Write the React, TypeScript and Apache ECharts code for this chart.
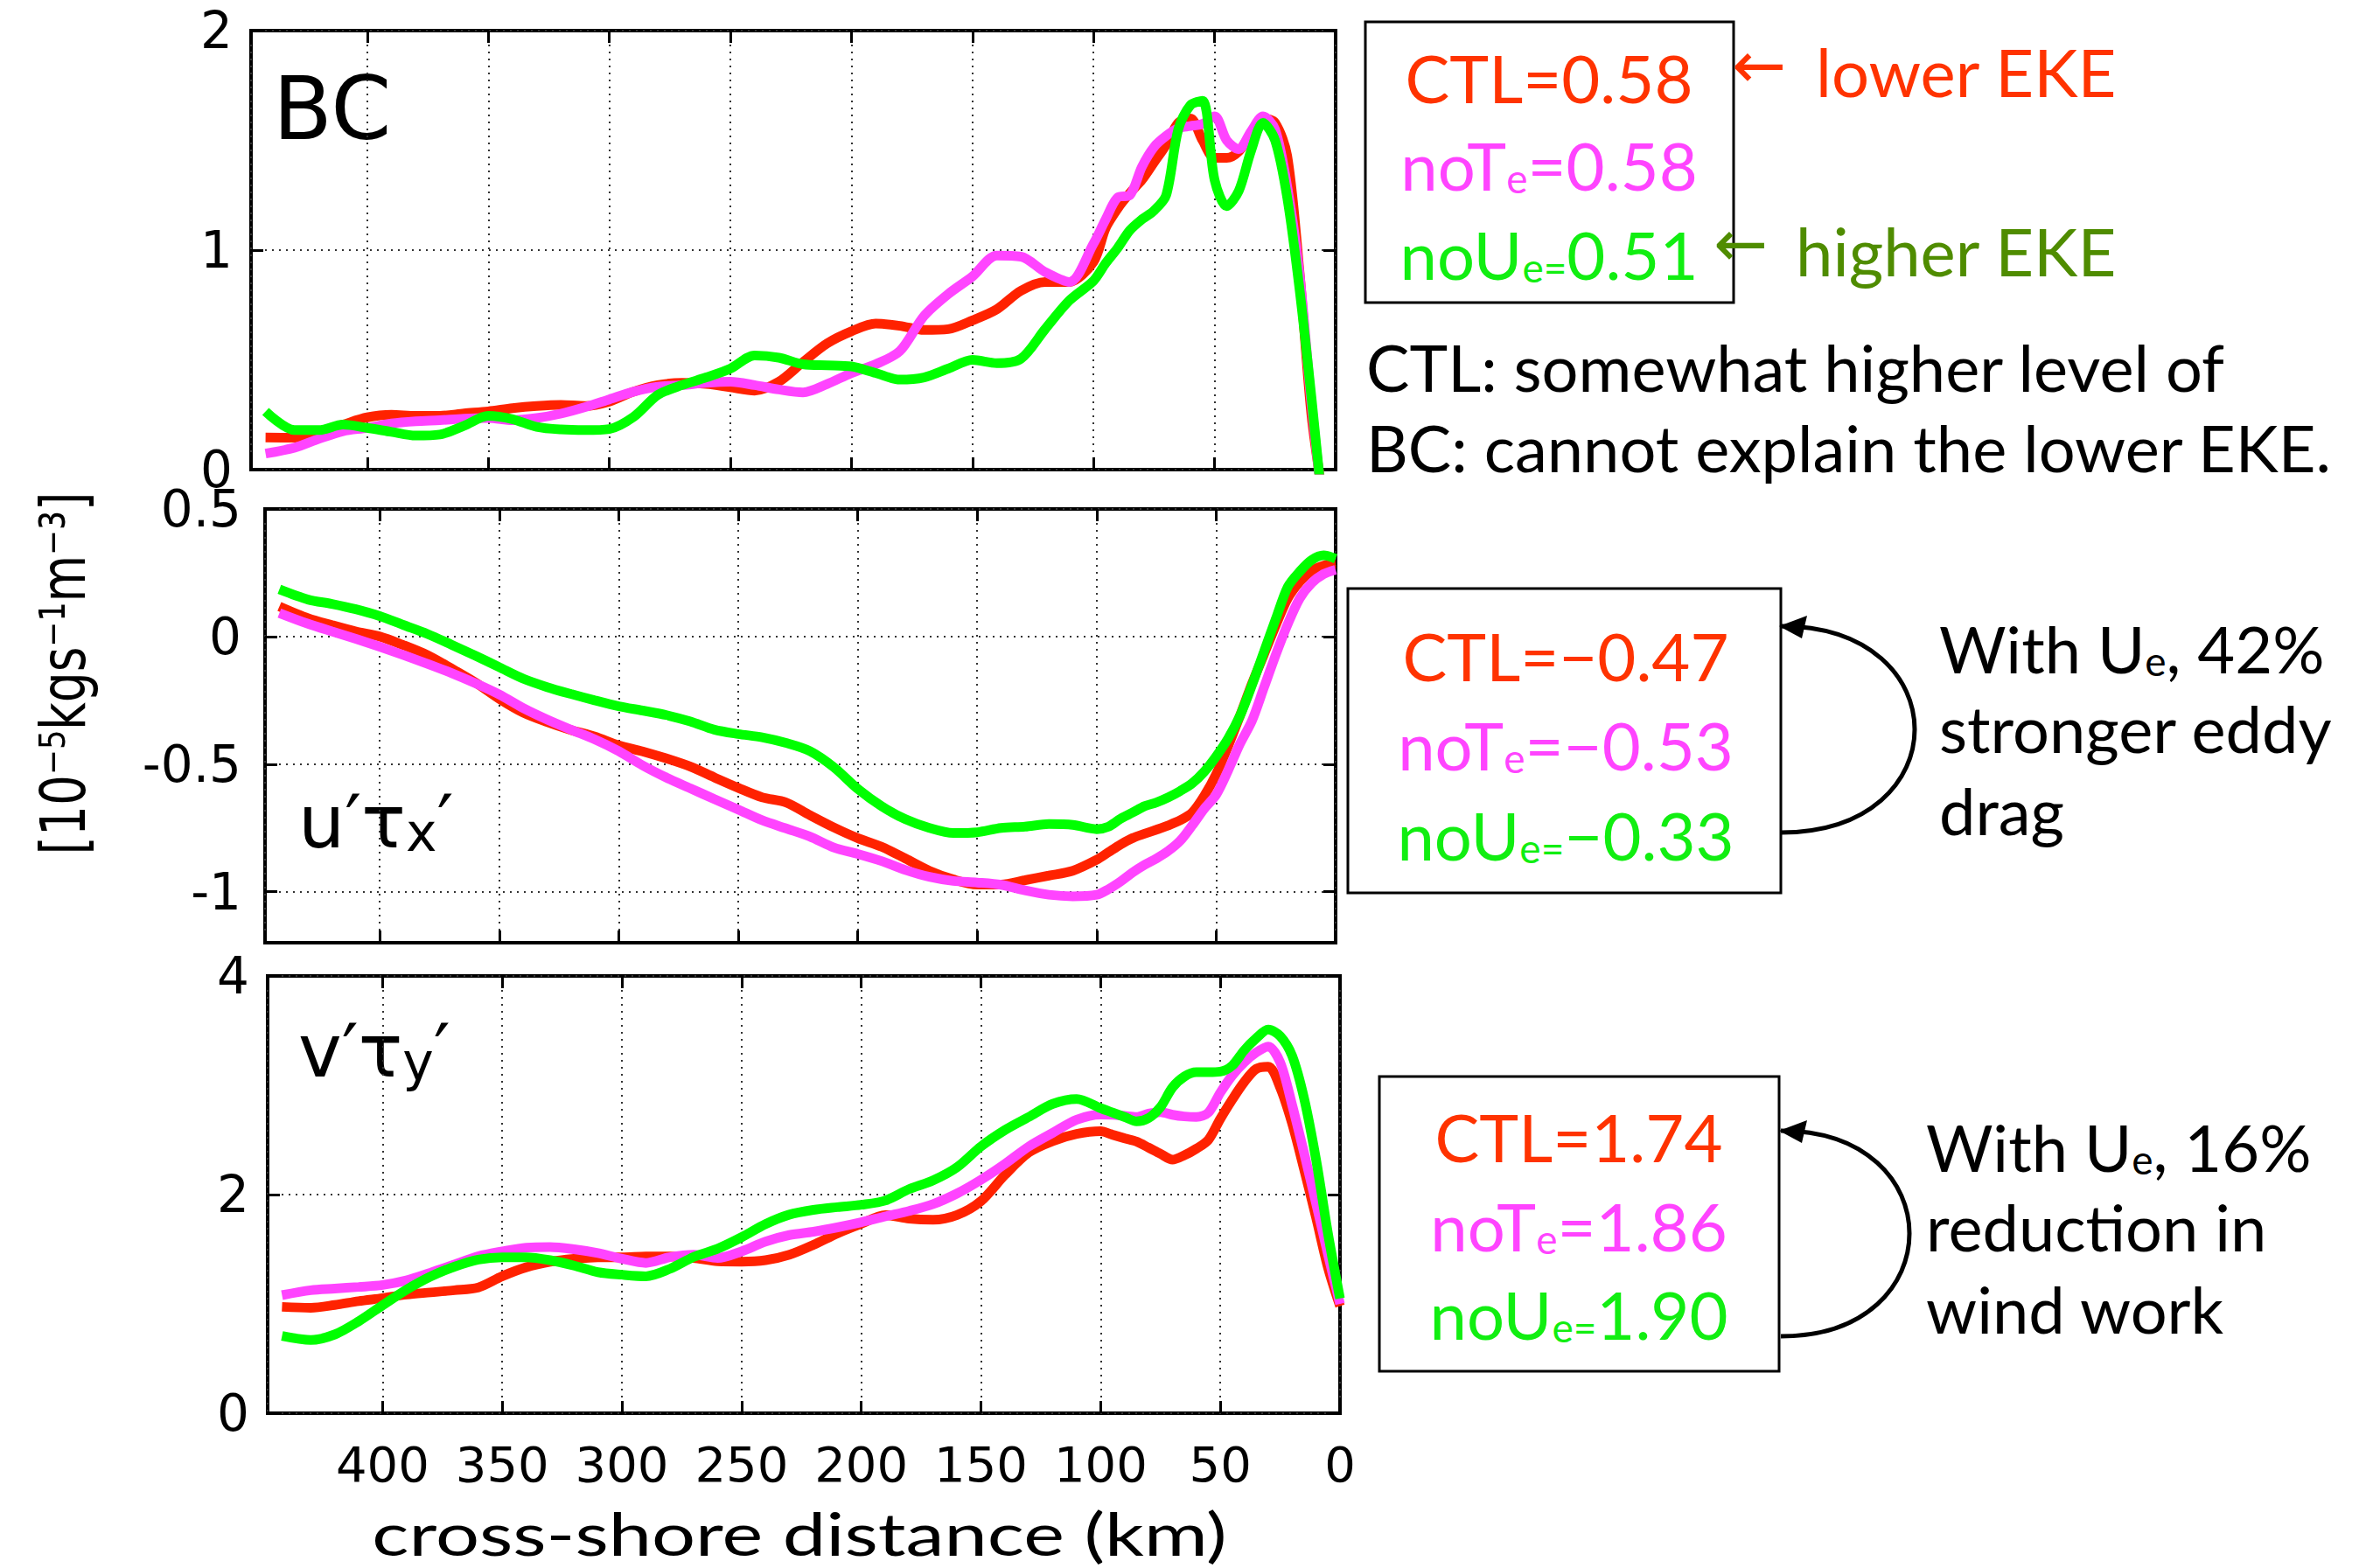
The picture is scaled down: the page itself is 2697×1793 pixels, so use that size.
import React, { useEffect, useRef } from 'react';
import * as echarts from 'echarts';

// cross-shore distance (km) sample positions shared by every curve
const KM = [442, 430, 420, 410, 400, 390, 380, 370, 360, 350, 340, 330, 320, 310, 300, 290, 280, 270, 260, 250, 240, 230, 220, 210, 200, 190, 180, 170, 160, 150, 140, 130, 120, 110, 100, 95, 90, 85, 80, 75, 70, 65, 60, 55, 50, 45, 40, 35, 30, 25, 20, 15, 10, 5, 0];

// Panel 1: BC
const BC_CTL = [0.146, 0.145, 0.17, 0.205, 0.238, 0.25, 0.245, 0.245, 0.256, 0.265, 0.28, 0.29, 0.295, 0.29, 0.31, 0.355, 0.385, 0.395, 0.39, 0.375, 0.36, 0.40, 0.49, 0.575, 0.63, 0.665, 0.655, 0.636, 0.64, 0.68, 0.73, 0.815, 0.855, 0.855, 0.947, 1.10, 1.19, 1.26, 1.32, 1.40, 1.48, 1.58, 1.60, 1.50, 1.42, 1.42, 1.45, 1.53, 1.60, 1.58, 1.43, 0.91, 0.25, -0.15, -0.55];
const BC_NOTE = [0.073, 0.10, 0.14, 0.175, 0.19, 0.21, 0.22, 0.225, 0.232, 0.235, 0.225, 0.235, 0.255, 0.285, 0.32, 0.355, 0.378, 0.385, 0.395, 0.40, 0.385, 0.365, 0.352, 0.39, 0.44, 0.48, 0.54, 0.70, 0.80, 0.88, 0.975, 0.97, 0.90, 0.855, 1.03, 1.14, 1.24, 1.25, 1.38, 1.47, 1.52, 1.555, 1.565, 1.575, 1.61, 1.50, 1.46, 1.54, 1.61, 1.55, 1.29, 0.90, 0.30, -0.2, -0.7];
const BC_NOUE = [0.265, 0.18, 0.18, 0.205, 0.19, 0.172, 0.155, 0.16, 0.20, 0.245, 0.23, 0.195, 0.183, 0.18, 0.185, 0.24, 0.34, 0.385, 0.42, 0.46, 0.52, 0.51, 0.48, 0.475, 0.47, 0.44, 0.41, 0.42, 0.46, 0.50, 0.485, 0.505, 0.64, 0.77, 0.86, 0.94, 1.01, 1.09, 1.14, 1.18, 1.25, 1.55, 1.66, 1.68, 1.32, 1.20, 1.27, 1.45, 1.58, 1.50, 1.24, 0.83, 0.33, -0.22, -0.77];

// Panel 2: u'tau_x'
const UTX_CTL = [0.118, 0.072, 0.045, 0.02, 0.0, -0.034, -0.073, -0.125, -0.18, -0.244, -0.298, -0.335, -0.366, -0.392, -0.426, -0.45, -0.478, -0.51, -0.552, -0.593, -0.63, -0.65, -0.70, -0.748, -0.79, -0.824, -0.87, -0.918, -0.952, -0.972, -0.972, -0.955, -0.937, -0.918, -0.875, -0.845, -0.815, -0.79, -0.773, -0.757, -0.74, -0.72, -0.69, -0.625, -0.54, -0.43, -0.31, -0.185, -0.07, 0.045, 0.15, 0.215, 0.258, 0.278, 0.285];
const UTX_NOTE = [0.092, 0.05, 0.02, -0.009, -0.04, -0.073, -0.107, -0.143, -0.183, -0.227, -0.28, -0.325, -0.365, -0.403, -0.449, -0.505, -0.553, -0.595, -0.637, -0.678, -0.72, -0.752, -0.784, -0.827, -0.852, -0.88, -0.915, -0.942, -0.958, -0.964, -0.973, -0.995, -1.012, -1.018, -1.012, -0.99, -0.96, -0.925, -0.895, -0.87, -0.84, -0.80, -0.74, -0.675, -0.62, -0.525, -0.42, -0.33, -0.20, -0.07, 0.05, 0.15, 0.21, 0.245, 0.262];
const UTX_NOUE = [0.185, 0.145, 0.128, 0.107, 0.08, 0.045, 0.01, -0.032, -0.075, -0.12, -0.165, -0.198, -0.225, -0.25, -0.273, -0.29, -0.308, -0.333, -0.365, -0.382, -0.395, -0.417, -0.449, -0.512, -0.597, -0.665, -0.716, -0.75, -0.77, -0.767, -0.75, -0.745, -0.735, -0.738, -0.755, -0.745, -0.714, -0.69, -0.665, -0.65, -0.63, -0.605, -0.575, -0.53, -0.47, -0.40, -0.31, -0.19, -0.06, 0.07, 0.195, 0.255, 0.30, 0.318, 0.305];

// Panel 3: v'tau_y'
const VTY_CTL = [0.973, 0.965, 0.99, 1.025, 1.053, 1.085, 1.105, 1.125, 1.15, 1.253, 1.335, 1.385, 1.412, 1.427, 1.427, 1.435, 1.435, 1.42, 1.39, 1.387, 1.40, 1.45, 1.54, 1.645, 1.733, 1.813, 1.78, 1.77, 1.813, 1.94, 2.18, 2.385, 2.49, 2.555, 2.58, 2.547, 2.515, 2.485, 2.43, 2.373, 2.32, 2.36, 2.42, 2.50, 2.693, 2.87, 3.03, 3.15, 3.17, 2.98, 2.65, 2.23, 1.79, 1.33, 0.98];
const VTY_NOTE = [1.08, 1.125, 1.14, 1.155, 1.173, 1.215, 1.285, 1.36, 1.435, 1.48, 1.515, 1.52, 1.50, 1.465, 1.413, 1.375, 1.427, 1.45, 1.42, 1.48, 1.57, 1.63, 1.66, 1.70, 1.747, 1.80, 1.85, 1.913, 2.01, 2.135, 2.28, 2.44, 2.565, 2.685, 2.733, 2.73, 2.72, 2.71, 2.74, 2.755, 2.73, 2.715, 2.71, 2.75, 2.933, 3.09, 3.21, 3.30, 3.355, 3.21, 2.82, 2.38, 1.92, 1.45, 1.0];
const VTY_NOUE = [0.707, 0.67, 0.72, 0.84, 0.987, 1.13, 1.25, 1.34, 1.405, 1.427, 1.427, 1.40, 1.35, 1.29, 1.267, 1.253, 1.32, 1.43, 1.505, 1.61, 1.73, 1.817, 1.86, 1.885, 1.907, 1.945, 2.05, 2.13, 2.25, 2.44, 2.59, 2.71, 2.83, 2.875, 2.79, 2.75, 2.71, 2.67, 2.70, 2.80, 2.98, 3.08, 3.12, 3.12, 3.125, 3.18, 3.32, 3.43, 3.51, 3.45, 3.27, 2.88, 2.32, 1.64, 1.05];

const PANEL_NAMES = ['BC', 'u′τx′', 'v′τy′'];
const U_TICKS = [-1, -0.5, 0, 0.5];
const RUN_NAMES = ['CTL', 'noTe', 'noUe'];
const BOX1 = ['0.58', '0.58', '0.51'];
const BOX2 = ['−0.47', '−0.53', '−0.33'];
const BOX3 = ['1.74', '1.86', '1.90'];

const RED = '#FF2200';
const MAG = '#FF44FF';
const GRN = '#00FF00';
const TXT_RED = '#FF3300';
const TXT_MAG = '#FF44FF';
const TXT_GRN = '#11EE11';
const OLIVE = '#4F8C00';
const SANS = '"DejaVu Sans", sans-serif';
const GILL = 'Lato, "Open Sans", "DejaVu Sans", sans-serif';

function App() {
  const ref = useRef<HTMLDivElement>(null);
  useEffect(() => {
    if (!ref.current) return;
    const chart = echarts.init(ref.current, null, { renderer: 'svg' });

    const grids = [
      { left: 287, top: 35, width: 1240, height: 502 },
      { left: 303, top: 582, width: 1224, height: 496 },
      { left: 306, top: 1116, width: 1226, height: 500 },
    ].map((g) => ({ ...g, show: true, borderColor: '#000', borderWidth: 4, backgroundColor: 'transparent' }));

    const splitStyle = { show: true, lineStyle: { color: '#333', width: 2, type: [2, 6] as any } };
    const tickStyle = { show: true, inside: true, length: 14, lineStyle: { color: '#000', width: 3 } };
    const noLine = { show: false, onZero: false };

    const xAxis: any[] = [];
    const yAxis: any[] = [];
    const yRanges = [
      { min: 0, max: 2, interval: 1 },
      { min: -1.2, max: 0.5 },
      { min: 0, max: 4, interval: 2 },
    ];
    for (let i = 0; i < 3; i++) {
      xAxis.push({
        type: 'value', gridIndex: i, min: 0, max: 448, interval: 50, inverse: true, position: 'bottom',
        axisLine: noLine, axisTick: tickStyle,
        axisLabel: {
          show: i === 2, showMaxLabel: false, fontFamily: SANS, fontSize: 56, color: '#000', margin: 30,
          formatter: (v: number) => (v % 50 === 0 ? String(v) : ''),
        },
        splitLine: splitStyle,
      });
      xAxis.push({
        type: 'value', gridIndex: i, min: 0, max: 448, interval: 50, inverse: true, position: 'top',
        axisLine: noLine, axisTick: tickStyle, axisLabel: { show: false }, splitLine: { show: false },
      });
      const r: any = yRanges[i];
      const custom = i === 1 ? { customValues: U_TICKS } : {};
      yAxis.push({
        type: 'value', gridIndex: i, min: r.min, max: r.max, ...(r.interval ? { interval: r.interval } : {}),
        position: 'left', axisLine: noLine,
        axisTick: { ...tickStyle, ...custom },
        axisLabel: { fontFamily: SANS, fontSize: 58, lineHeight: 42, color: '#000', margin: i === 1 ? 27 : 21, formatter: (v: number) => String(v), ...custom },
        splitLine: splitStyle,
      });
      yAxis.push({
        type: 'value', gridIndex: i, min: r.min, max: r.max, ...(r.interval ? { interval: r.interval } : {}),
        position: 'right', axisLine: noLine,
        axisTick: { ...tickStyle, ...custom }, axisLabel: { show: false }, splitLine: { show: false },
      });
    }

    const panels = [
      [BC_CTL, BC_NOTE, BC_NOUE],
      [UTX_CTL, UTX_NOTE, UTX_NOUE],
      [VTY_CTL, VTY_NOTE, VTY_NOUE],
    ];
    const colors = [RED, MAG, GRN];
    const series: any[] = [];
    panels.forEach((sets, p) => {
      sets.forEach((vals, s) => {
        series.push({
          type: 'line', name: RUN_NAMES[s] + p, xAxisIndex: p * 2, yAxisIndex: p * 2,
          data: KM.map((k, i) => [k, vals[i]]), showSymbol: false, smooth: 0.3, clip: true, silent: true,
          lineStyle: { color: colors[s], width: 11 }, itemStyle: { color: colors[s] }, z: 3 + s,
        });
      });
    });

    const mainTok = (c: string, fs = 76) => ({ fontSize: fs, fontFamily: GILL, fill: c, lineHeight: fs });
    const subTok = (c: string, fs = 46) => ({ fontSize: fs, fontFamily: GILL, fill: c, lineHeight: fs * 0.8, verticalAlign: 'bottom' });
    const boxLines = (cx: number, ys: number[], vals: string[]) => [
      { type: 'text', x: cx, y: ys[0], style: { text: RUN_NAMES[0] + '=' + vals[0], fontSize: 76, fontFamily: GILL, fill: TXT_RED, align: 'center', verticalAlign: 'middle' } },
      { type: 'text', x: cx, y: ys[1], style: { text: '{m|noT}{s|e}{m|=' + vals[1] + '}', align: 'center', verticalAlign: 'middle', rich: { m: mainTok(TXT_MAG), s: subTok(TXT_MAG) } } },
      { type: 'text', x: cx, y: ys[2], style: { text: '{m|noU}{s|e=}{m|' + vals[2] + '}', align: 'center', verticalAlign: 'middle', rich: { m: mainTok(TXT_GRN), s: subTok(TXT_GRN) } } },
    ];
    const blackTxt = (x: number, y: number, t: string) => ({ type: 'text', x, y, style: { text: t, fontSize: 74, fontFamily: GILL, fill: '#000', align: 'left', verticalAlign: 'middle' } });
    const richBlack = (x: number, y: number, t: string) => ({ type: 'text', x, y, style: { text: t, align: 'left', verticalAlign: 'middle', rich: { m: mainTok('#000', 74), s: subTok('#000', 46) } } });
    const loopArrow = (x: number, y1: number, y2: number, bulge: number) => [
      { type: 'bezierCurve', shape: { x1: x, y1, x2: x, y2, cpx1: x + bulge, cpy1: y1, cpx2: x + bulge, cpy2: y2 }, style: { stroke: '#000', lineWidth: 5, fill: 'none' } },
      { type: 'polygon', shape: { points: [[x - 2, y1], [x + 30, y1 - 12], [x + 24, y1 + 14]] }, style: { fill: '#000' } },
    ];

    const graphic: any[] = [
      // panel labels
      { type: 'text', x: 312, y: 124, style: { text: PANEL_NAMES[0], fontSize: 99, fontFamily: SANS, fill: '#000', align: 'left', verticalAlign: 'middle' } },
      { type: 'text', x: 341, y: 940, style: { text: '{m|u′τ}{s|x}{m|′}', align: 'left', verticalAlign: 'middle', rich: { m: { fontSize: 84, fontFamily: SANS, fill: '#000', lineHeight: 84 }, s: { fontSize: 60, fontFamily: SANS, fill: '#000', lineHeight: 50, verticalAlign: 'bottom' } } } },
      { type: 'text', x: 341, y: 1202, style: { text: '{m|v′τ}{s|y}{m|′}', align: 'left', verticalAlign: 'middle', rich: { m: { fontSize: 84, fontFamily: SANS, fill: '#000', lineHeight: 84 }, s: { fontSize: 60, fontFamily: SANS, fill: '#000', lineHeight: 50, verticalAlign: 'bottom' } } } },
      // axis titles
      { type: 'text', x: 72, y: 770, rotation: Math.PI / 2, scaleY: 1.3, style: { text: '[10⁻⁵kgs⁻¹m⁻³]', fontSize: 55, fontFamily: SANS, fill: '#000', align: 'center', verticalAlign: 'middle' } },
      { type: 'text', x: 914, y: 1753, scaleX: 1.3, style: { text: 'cross-shore distance (km)', fontSize: 68, fontFamily: GILL, fill: '#000', align: 'center', verticalAlign: 'middle' } },
      // boxes
      { type: 'rect', shape: { x: 1561, y: 25, width: 421, height: 321 }, style: { fill: 'none', stroke: '#000', lineWidth: 3 } },
      { type: 'rect', shape: { x: 1541, y: 673, width: 495, height: 348 }, style: { fill: 'none', stroke: '#000', lineWidth: 3 } },
      { type: 'rect', shape: { x: 1577, y: 1231, width: 457, height: 337 }, style: { fill: 'none', stroke: '#000', lineWidth: 3 } },
      ...boxLines(1771, [88, 188, 290], BOX1),
      ...boxLines(1790, [749, 851, 954], BOX2),
      ...boxLines(1805, [1299, 1401, 1502], BOX3),
      // EKE notes
      { type: 'text', x: 2011, y: 74, style: { text: '←', fontSize: 74, fontFamily: SANS, fill: TXT_RED, align: 'center', verticalAlign: 'middle' } },
      { type: 'text', x: 2076, y: 81, style: { text: 'lower EKE', fontSize: 76, fontFamily: GILL, fill: TXT_RED, align: 'left', verticalAlign: 'middle' } },
      { type: 'text', x: 1990, y: 278, style: { text: '←', fontSize: 74, fontFamily: SANS, fill: OLIVE, align: 'center', verticalAlign: 'middle' } },
      { type: 'text', x: 2053, y: 286, style: { text: 'higher EKE', fontSize: 76, fontFamily: GILL, fill: OLIVE, align: 'left', verticalAlign: 'middle' } },
      blackTxt(1562, 419, 'CTL: somewhat higher level of'),
      blackTxt(1562, 511, 'BC: cannot explain the lower EKE.'),
      // eddy drag notes
      ...loopArrow(2036, 716, 952, 204),
      richBlack(2217, 741, '{m|With U}{s|e}{m|, 42%}'),
      blackTxt(2217, 832, 'stronger eddy'),
      blackTxt(2217, 926, 'drag'),
      // wind work notes
      ...loopArrow(2036, 1293, 1528, 196),
      richBlack(2202, 1311, '{m|With U}{s|e}{m|, 16%}'),
      blackTxt(2202, 1402, 'reduction in'),
      blackTxt(2202, 1496, 'wind work'),
    ];

    chart.setOption({
      animation: false,
      backgroundColor: '#fff',
      grid: grids,
      xAxis,
      yAxis,
      series,
      graphic,
    });
    return () => chart.dispose();
  }, []);
  return <div ref={ref} style={{ position: 'absolute', left: 0, top: 0, width: 2697, height: 1793, background: '#fff' }} />;
}

export default App;
